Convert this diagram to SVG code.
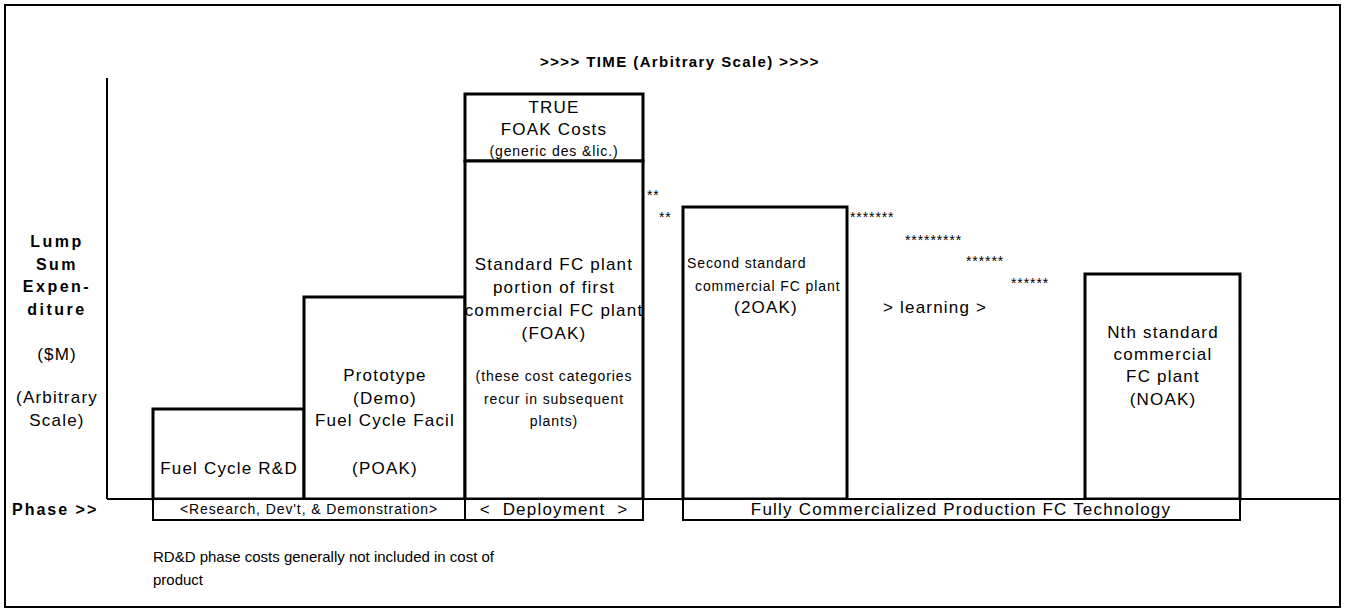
<svg xmlns="http://www.w3.org/2000/svg" width="1345" height="610" viewBox="0 0 1345 610">
<style>
.t{font-family:"Liberation Sans",Arial,sans-serif;font-size:17px;letter-spacing:1.2px;fill:#000}
.s{font-family:"Liberation Sans",Arial,sans-serif;font-size:14px;letter-spacing:0.9px;fill:#000}
.b{font-family:"Liberation Sans",Arial,sans-serif;font-size:16px;font-weight:bold;letter-spacing:2.5px;fill:#000}
.m{text-anchor:middle}
.box{fill:#fff;stroke:#000;stroke-width:3}
.ph{fill:#fff;stroke:#000;stroke-width:2}
.ln{stroke:#000;stroke-width:2;fill:none}
</style>
<rect x="0" y="0" width="1345" height="610" fill="#fff"/>
<rect class="ln" x="5" y="5" width="1335" height="602"/>
<g id="axes">
<line class="ln" x1="107" y1="78" x2="107" y2="499"/>
<line class="ln" x1="107" y1="499" x2="1340" y2="499"/>
</g>
<text class="b m" x="680" y="67" style="font-size:15px;letter-spacing:1.4px">&gt;&gt;&gt;&gt; TIME (Arbitrary Scale) &gt;&gt;&gt;&gt;</text>
<g id="ylabel">
<text class="b m" x="57" y="247">Lump</text>
<text class="b m" x="57" y="270">Sum</text>
<text class="b m" x="57" y="292">Expen-</text>
<text class="b m" x="57" y="315">diture</text>
<text class="t m" x="57" y="360">($M)</text>
<text class="t m" x="57" y="403">(Arbitrary</text>
<text class="t m" x="57" y="426">Scale)</text>
</g>
<g id="rd">
<rect class="box" x="153" y="409" width="151" height="90"/>
<text class="t m" x="229" y="474">Fuel Cycle R&amp;D</text>
</g>
<g id="poak">
<rect class="box" x="304" y="297" width="161" height="202"/>
<text class="t m" x="385" y="381">Prototype</text>
<text class="t m" x="385" y="404">(Demo)</text>
<text class="t m" x="385" y="426">Fuel Cycle Facil</text>
<text class="t m" x="385" y="474">(POAK)</text>
</g>
<g id="foak-true">
<rect class="box" x="465" y="94" width="178" height="67"/>
<text class="t m" x="554" y="113">TRUE</text>
<text class="t m" x="554" y="135">FOAK Costs</text>
<text class="s m" x="554" y="156">(generic des &amp;lic.)</text>
</g>
<g id="foak">
<rect class="box" x="465" y="161" width="178" height="338"/>
<text class="t m" x="554" y="270">Standard FC plant</text>
<text class="t m" x="554" y="293">portion of first</text>
<text class="t m" x="554" y="316">commercial FC plant</text>
<text class="t m" x="554" y="339">(FOAK)</text>
<text class="s m" x="554" y="381">(these cost categories</text>
<text class="s m" x="554" y="404">recur in subsequent</text>
<text class="s m" x="554" y="426">plants)</text>
</g>
<g id="soak">
<rect class="box" x="683" y="207" width="164" height="292"/>
<text class="s" x="687" y="268">Second standard</text>
<text class="s" x="695" y="291">commercial FC plant</text>
<text class="t m" x="766" y="313">(2OAK)</text>
</g>
<g id="noak">
<rect class="box" x="1085" y="274" width="155" height="225"/>
<text class="t m" x="1163" y="338">Nth standard</text>
<text class="t m" x="1163" y="360">commercial</text>
<text class="t m" x="1163" y="382">FC plant</text>
<text class="t m" x="1163" y="405">(NOAK)</text>
</g>
<g id="connectors">
<text class="s" x="647" y="200">**</text>
<text class="s" x="659" y="222">**</text>
<text class="s" x="850" y="222">*******</text>
<text class="s" x="905" y="245">*********</text>
<text class="s" x="966" y="266">******</text>
<text class="s" x="1011" y="288">******</text>
<text class="t" x="883" y="313">&gt; learning &gt;</text>
</g>
<g id="phases">
<text class="b" x="12" y="515" style="letter-spacing:2px">Phase &gt;&gt;</text>
<rect class="ph" x="153" y="499" width="312" height="21"/>
<text class="s m" x="309" y="514">&lt;Research, Dev't, &amp; Demonstration&gt;</text>
<rect class="ph" x="465" y="499" width="178" height="21"/>
<text class="t m" x="554" y="515" xml:space="preserve">&lt;  Deployment  &gt;</text>
<rect class="ph" x="683" y="499" width="557" height="21"/>
<text class="t m" x="961" y="515">Fully Commercialized Production FC Technology</text>
</g>
<g id="note">
<text class="t" x="153" y="562" style="font-size:15px;letter-spacing:0px">RD&amp;D phase costs generally not included in cost of</text>
<text class="t" x="153" y="585" style="font-size:15px;letter-spacing:0px">product</text>
</g>
</svg>
